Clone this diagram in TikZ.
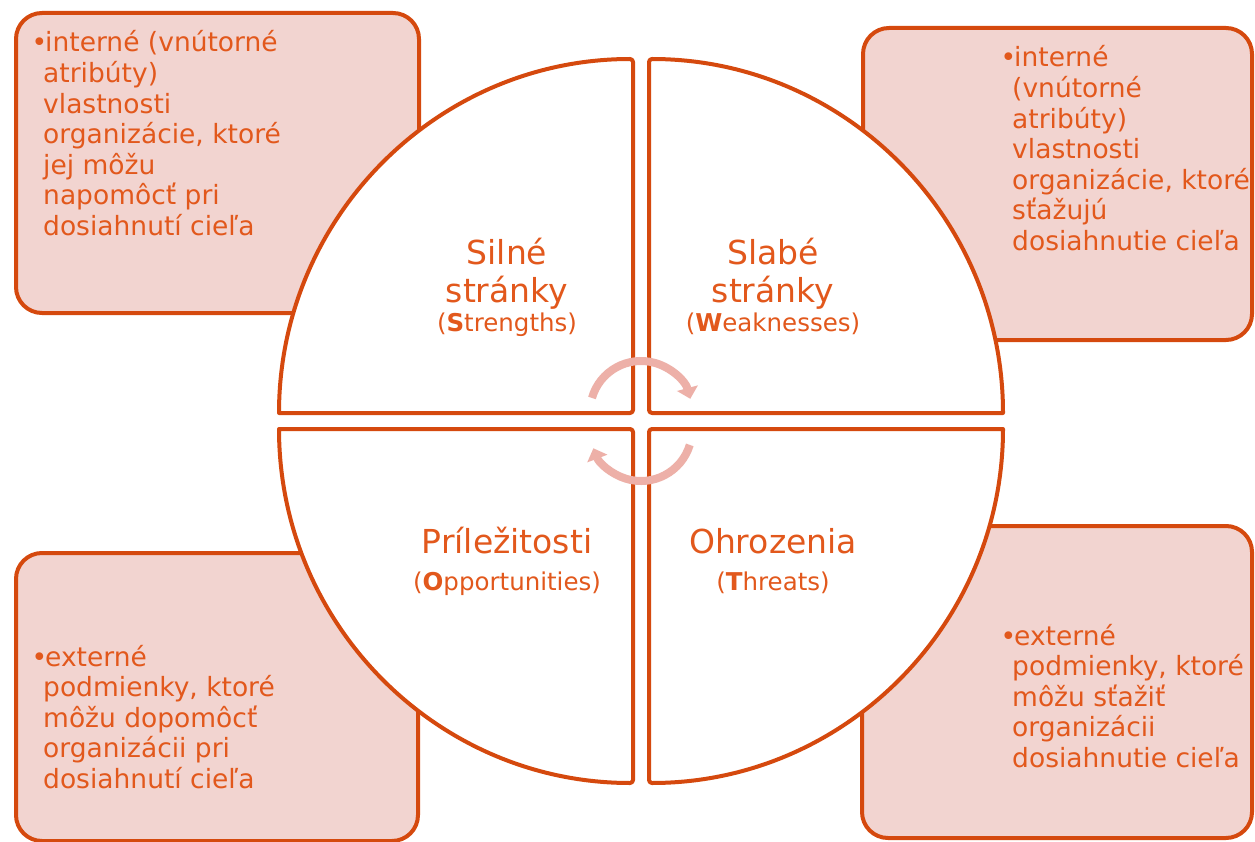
\documentclass[tikz,border=0pt]{standalone}
\usepackage{fontspec}
\setmainfont{DejaVu Sans}
\usetikzlibrary{arrows.meta}
\definecolor{stroke}{RGB}{213,73,14}
\definecolor{txt}{RGB}{226,88,28}
\definecolor{boxfill}{RGB}{242,212,208}
\definecolor{arr}{RGB}{237,176,168}
\newcommand{\bul}{\leavevmode\llap{•\hspace{-4pt}}\hspace*{2pt}}
\newcommand{\bxsetup}{\raggedright\lineskiplimit=-100pt\relax}
\begin{document}
\begin{tikzpicture}[x=1pt,y=1pt,
  infobox/.style={draw=stroke, line width=4pt, fill=boxfill, rounded corners=26pt, inner sep=0pt},
  quad/.style={draw=stroke, line width=4pt, fill=white, line join=round},
  cyc/.style={draw=arr, line width=8pt, -{Triangle[width=21pt,length=11pt]}},
  boxtext/.style={anchor=base west, inner sep=0pt, text=txt, font={\fontsize{26.5}{30.6}\selectfont}},
  lbl/.style={anchor=base, inner sep=0pt, text=txt}]
\useasboundingbox (0,0) rectangle (1255,-842);
% side boxes
\node[infobox, minimum width=403pt, minimum height=300pt] (sbox) at (217.5,-163) {};
\node[infobox, minimum width=389pt, minimum height=312pt] (wbox) at (1057.5,-184) {};
\node[infobox, minimum width=402pt, minimum height=288pt] (obox) at (217,-697) {};
\node[infobox, minimum width=390pt, minimum height=312pt] (tbox) at (1057,-682) {};
% quadrants
\draw[quad] (279,-413) [rounded corners=3pt] -- (633,-413) -- (633,-59) [sharp corners] arc[start angle=90, end angle=180, radius=354] -- cycle;
\draw[quad] (1003,-413) [rounded corners=3pt] -- (649,-413) -- (649,-59) [sharp corners] arc[start angle=90, end angle=0, radius=354] -- cycle;
\draw[quad] (279,-429) [rounded corners=3pt] -- (633,-429) -- (633,-783) [sharp corners] arc[start angle=270, end angle=180, radius=354] -- cycle;
\draw[quad] (1003,-429) [rounded corners=3pt] -- (649,-429) -- (649,-783) [sharp corners] arc[start angle=270, end angle=360, radius=354] -- cycle;
% cycle arrows
\draw[cyc] ([shift={(164:51)}]641,-412) arc[start angle=164, end angle=15, radius=51];
\draw[cyc] ([shift={(-17:51)}]641,-430) arc[start angle=-17, end angle=-159, radius=51];
% quadrant labels
\node[lbl] (s) at (507,-265) {\parbox[t]{220pt}{\centering\fontsize{33}{38}\selectfont Silné\\stránky\par\fontsize{24.5}{29}\selectfont(\textbf{S}trengths)}};
\node[lbl] (w) at (773,-265) {\parbox[t]{220pt}{\centering\fontsize{33}{38}\selectfont Slabé\\stránky\par\fontsize{24.5}{29}\selectfont(\textbf{W}eaknesses)}};
\node[lbl] (o) at (507,-553) {\parbox[t]{240pt}{\centering\fontsize{33}{38}\selectfont Príležitosti\par\fontsize{24.5}{37}\selectfont(\textbf{O}pportunities)}};
\node[lbl] (t) at (773,-553) {\parbox[t]{240pt}{\centering\fontsize{33}{38}\selectfont Ohrozenia\par\fontsize{24.5}{37}\selectfont(\textbf{T}hreats)}};
% box texts
\node[boxtext] (stext) at (43,-52) {\parbox[t]{360pt}{\bxsetup\bul interné (vnútorné\\atribúty)\\vlastnosti\\organizácie, ktoré\\jej môžu\\napomôcť pri\\dosiahnutí cieľa}};
\node[boxtext] (wtext) at (1012,-67) {\parbox[t]{240pt}{\bxsetup\bul interné\\(vnútorné\\atribúty)\\vlastnosti\\organizácie, ktoré\\sťažujú\\dosiahnutie cieľa}};
\node[boxtext] (otext) at (43,-666) {\parbox[t]{360pt}{\bxsetup\bul externé\\podmienky, ktoré\\môžu dopomôcť\\organizácii pri\\dosiahnutí cieľa}};
\node[boxtext] (ttext) at (1012,-645) {\parbox[t]{240pt}{\bxsetup\bul externé\\podmienky, ktoré\\môžu sťažiť\\organizácii\\dosiahnutie cieľa}};
\end{tikzpicture}
\end{document}
